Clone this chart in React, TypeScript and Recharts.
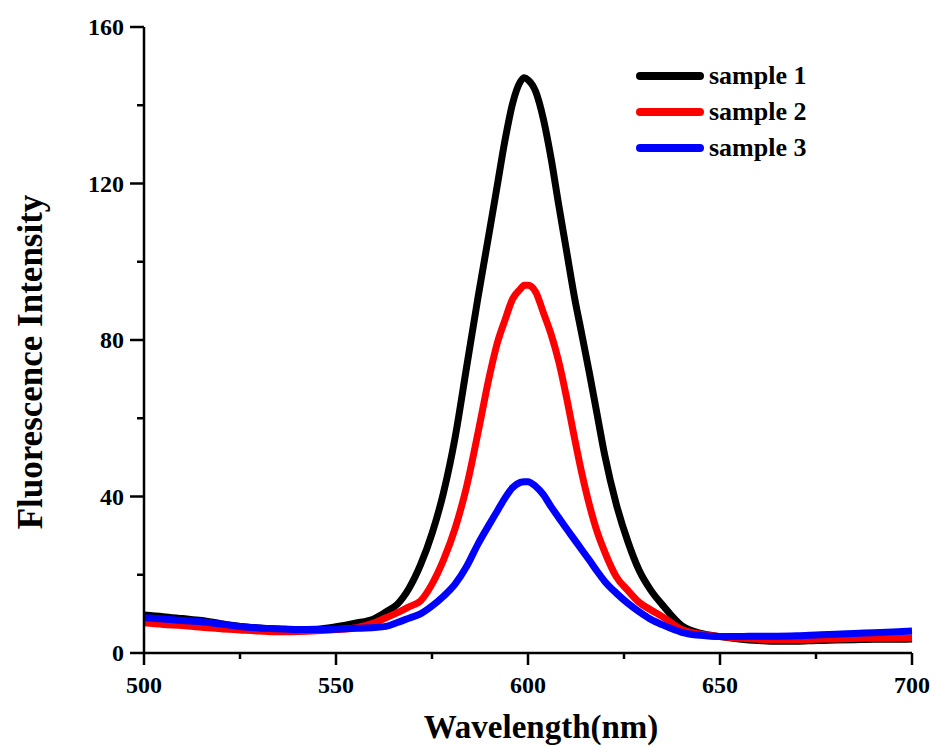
import React from 'react';
import { Legend, Line, LineChart, XAxis, YAxis, Label } from 'recharts';

// wavelength grid (nm), denser around the emission peak
const wavelengths = [
  500, 505, 510, 515, 520, 525, 530, 535, 540, 545, 550, 555, 560, 563, 566, 569, 572, 575, 578,
  581, 584, 587, 590, 592, 594, 596, 598, 599, 600, 602, 604, 606, 608, 610, 612, 614, 616, 618,
  620, 623, 626, 629, 632, 635, 640, 645, 650, 655, 660, 665, 670, 675, 680, 685, 690, 695, 700,
];

const sample1 = [
  9.7, 9.3, 8.8, 8.3, 7.5, 6.8, 6.4, 6.1, 6.0, 6.1, 6.7, 7.6, 8.8, 10.5, 12.5, 16.5, 22.5, 30.5,
  41, 55, 73, 91, 108, 119.5, 131, 140.5, 146, 147, 146.5, 143.5, 136.5, 126.5, 114.5, 103, 91.5,
  81.5, 71.5, 61, 50.5, 38, 28.5, 21, 16, 12.3, 7, 5, 4.2, 3.6, 3.2, 3.0, 3.0, 3.2, 3.3, 3.4, 3.5,
  3.5, 3.6,
];

const sample2 = [
  7.7, 7.3, 7.0, 6.6, 6.2, 5.9, 5.6, 5.4, 5.5, 5.7, 6.0, 6.4, 7.7, 9.0, 10.3, 11.8, 13.3, 17.6,
  23.8, 31.8, 42.5, 56.4, 71, 79.2, 85.1, 90.5, 93, 94, 94, 92.3, 87, 81.5, 74.5, 65.5, 55.5, 46,
  37.8, 31, 25.8, 19.5, 16, 12.9, 11, 9.3, 6, 4.8, 4.2, 3.8, 3.5, 3.4, 3.4, 3.5, 3.6, 3.7, 3.8,
  3.8, 3.9,
];

const sample3 = [
  9.0, 8.7, 8.3, 8.0, 7.4, 6.8, 6.4, 6.2, 6.0, 6.0, 6.1, 6.3, 6.5, 6.8, 7.8, 8.9, 10, 12, 14.5,
  17.6, 22.1, 27.9, 33, 36.3, 39.6, 42.3, 43.6, 43.8, 43.8, 42.6, 40.5, 37.4, 34.6, 31.8, 29.1,
  26.4, 23.7, 20.9, 18.3, 15.3, 12.7, 10.5, 8.6, 7.2, 5.3, 4.5, 4.2, 4.2, 4.3, 4.3, 4.4, 4.6, 4.8,
  5.0, 5.2, 5.4, 5.6,
];

const xTicks = [500, 525, 550, 575, 600, 625, 650, 675, 700];
const yTicks = [0, 20, 40, 60, 80, 100, 120, 140, 160];

const series = [
  { key: 's1', name: 'sample 1', color: '#000000', values: sample1 },
  { key: 's2', name: 'sample 2', color: '#ff0000', values: sample2 },
  { key: 's3', name: 'sample 3', color: '#0000ff', values: sample3 },
];

const data = wavelengths.map((wl, i) => {
  const row: Record<string, number> = { wl };
  series.forEach((s) => {
    row[s.key] = s.values[i];
  });
  return row;
});

const FONT = '"Times New Roman", "Liberation Serif", serif';

const XTick = (props: any) => {
  const { x, y, payload } = props;
  const major = payload.value % 50 === 0;
  return (
    <g>
      <line x1={x} x2={x} y1={y} y2={y + (major ? 12 : 6)} stroke="#000" strokeWidth={2.5} />
      {major && (
        <text x={x} y={y + 40} textAnchor="middle" fontFamily={FONT} fontWeight="bold" fontSize={24} fill="#000">
          {payload.value}
        </text>
      )}
    </g>
  );
};

const YTick = (props: any) => {
  const { x, y, payload } = props;
  const major = payload.value % 40 === 0;
  return (
    <g>
      <line x1={x} x2={x - (major ? 14 : 7)} y1={y} y2={y} stroke="#000" strokeWidth={2.5} />
      {major && (
        <text x={x - 20} y={y + 8} textAnchor="end" fontFamily={FONT} fontWeight="bold" fontSize={24} fill="#000">
          {payload.value}
        </text>
      )}
    </g>
  );
};

const LegendBox = (props: any) => {
  const { payload = [] } = props;
  return (
    <div style={{ fontFamily: FONT, fontWeight: 'bold', fontSize: 26, textAlign: 'left' }}>
      {payload.map((p: any) => (
        <div key={p.value} style={{ display: 'flex', alignItems: 'center', height: 36 }}>
          <div style={{ width: 68, height: 8, borderRadius: 4, background: p.color, marginLeft: 6, marginRight: 5 }} />
          <span style={{ lineHeight: '36px' }}>{p.value}</span>
        </div>
      ))}
    </div>
  );
};

export default function App() {
  return (
    <div style={{ position: 'absolute', left: 0, top: 0, width: 937, height: 747, background: '#fff' }}>
      <LineChart width={937} height={747} data={data} margin={{ top: 27, right: 25, left: 0, bottom: 0 }}>
        <XAxis
          dataKey="wl"
          type="number"
          domain={[500, 700]}
          ticks={xTicks}
          interval={0}
          height={94}
          tickSize={0}
          tickMargin={0}
          tickLine={false}
          tick={<XTick />}
          axisLine={{ stroke: '#000', strokeWidth: 2.5 }}
        >
          <Label
            content={(p: any) => {
              const vb = p.viewBox;
              return (
                <text
                  x={vb.x + vb.width / 2 + 13}
                  y={vb.y + 85}
                  textAnchor="middle"
                  fontFamily={FONT}
                  fontWeight="bold"
                  fontSize={33}
                  fill="#000"
                >
                  Wavelength(nm)
                </text>
              );
            }}
          />
        </XAxis>
        <YAxis
          type="number"
          domain={[0, 160]}
          ticks={yTicks}
          interval={0}
          width={144}
          tickSize={0}
          tickMargin={0}
          tickLine={false}
          tick={<YTick />}
          axisLine={{ stroke: '#000', strokeWidth: 2.5 }}
        >
          <Label
            content={(p: any) => {
              const vb = p.viewBox;
              const cx = 30;
              const cy = vb.y + vb.height / 2 + 22;
              return (
                <text
                  x={cx}
                  y={cy}
                  transform={`rotate(-90, ${cx}, ${cy})`}
                  textAnchor="middle"
                  dominantBaseline="central"
                  fontFamily={FONT}
                  fontWeight="bold"
                  fontSize={35}
                  fill="#000"
                >
                  Fluorescence Intensity
                </text>
              );
            }}
          />
        </YAxis>
        <Legend
          layout="horizontal"
          verticalAlign="middle"
          align="center"
          content={<LegendBox />}
          wrapperStyle={{ left: 630, top: 58, width: 'auto', right: 'auto', bottom: 'auto' }}
        />
        {series.map((s) => (
          <Line
            key={s.key}
            dataKey={s.key}
            name={s.name}
            type="monotone"
            stroke={s.color}
            strokeWidth={7}
            strokeLinejoin="round"
            dot={false}
            activeDot={false}
            isAnimationActive={false}
          />
        ))}
      </LineChart>
    </div>
  );
}
